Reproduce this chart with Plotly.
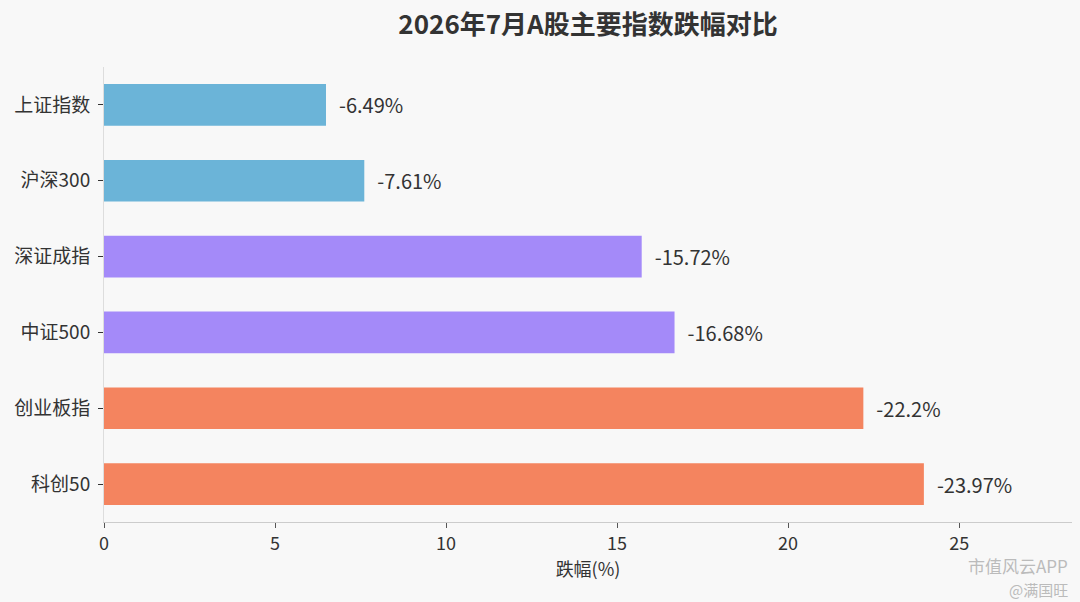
import plotly.graph_objects as go

# 2026年7月 A股主要指数跌幅
indices = ["上证指数", "沪深300", "深证成指", "中证500", "创业板指", "科创50"]
declines = [6.49, 7.61, 15.72, 16.68, 22.2, 23.97]
bar_colors = ["#6BB4D8", "#6BB4D8", "#A48AF9", "#A48AF9", "#F4845F", "#F4845F"]
value_labels = ["-6.49%", "-7.61%", "-15.72%", "-16.68%", "-22.2%", "-23.97%"]
x_ticks = [0, 5, 10, 15, 20, 25]

FONT = "Noto Sans CJK SC"

fig = go.Figure(
    go.Bar(
        x=declines,
        y=indices,
        orientation="h",
        marker=dict(color=bar_colors, line=dict(width=0)),
        width=0.55,
        text=["\u2002" + s for s in value_labels],
        textposition="outside",
        textfont=dict(size=20, color="#333333", family=FONT),
        cliponaxis=False,
        showlegend=False,
    )
)

fig.update_layout(
    width=1080,
    height=602,
    paper_bgcolor="#F8F8F8",
    plot_bgcolor="#F8F8F8",
    margin=dict(l=104, r=8, t=67, b=80),
    font=dict(family=FONT, color="#333333"),
    title=dict(
        text="<b>2026年7月A股主要指数跌幅对比</b>",
        x=0.5445,
        xanchor="center",
        y=0.958,
        yanchor="middle",
        font=dict(size=26, color="#333333", family=FONT),
    ),
    bargap=0.45,
)

fig.update_xaxes(
    range=[0, 28.3],
    tickvals=x_ticks,
    ticks="outside",
    ticklen=5,
    tickcolor="#555555",
    showgrid=False,
    zeroline=False,
    showline=True,
    linecolor="#CCCCCC",
    tickfont=dict(size=18, color="#333333"),
    title=dict(text="跌幅(%)", font=dict(size=18, color="#333333"), standoff=6),
)

fig.update_yaxes(
    autorange="reversed",
    ticks="outside",
    ticklen=5,
    tickcolor="#333333",
    ticklabelstandoff=4,
    showgrid=False,
    showline=True,
    linecolor="#DDDDDD",
    tickfont=dict(size=19, color="#333333"),
)

# watermark
fig.add_annotation(
    text="市值风云APP", xref="paper", yref="paper", x=0.998, y=-0.095,
    xanchor="right", yanchor="middle", showarrow=False,
    font=dict(size=17, color="#BBBBBB", family=FONT),
)
fig.add_annotation(
    text="@满国旺", xref="paper", yref="paper", x=0.998, y=-0.148,
    xanchor="right", yanchor="middle", showarrow=False,
    font=dict(size=15, color="#BBBBBB", family=FONT),
)

fig.write_html(
    "out.html",
    config={"displayModeBar": False},
    post_script="document.body.style.margin='0';",
)
